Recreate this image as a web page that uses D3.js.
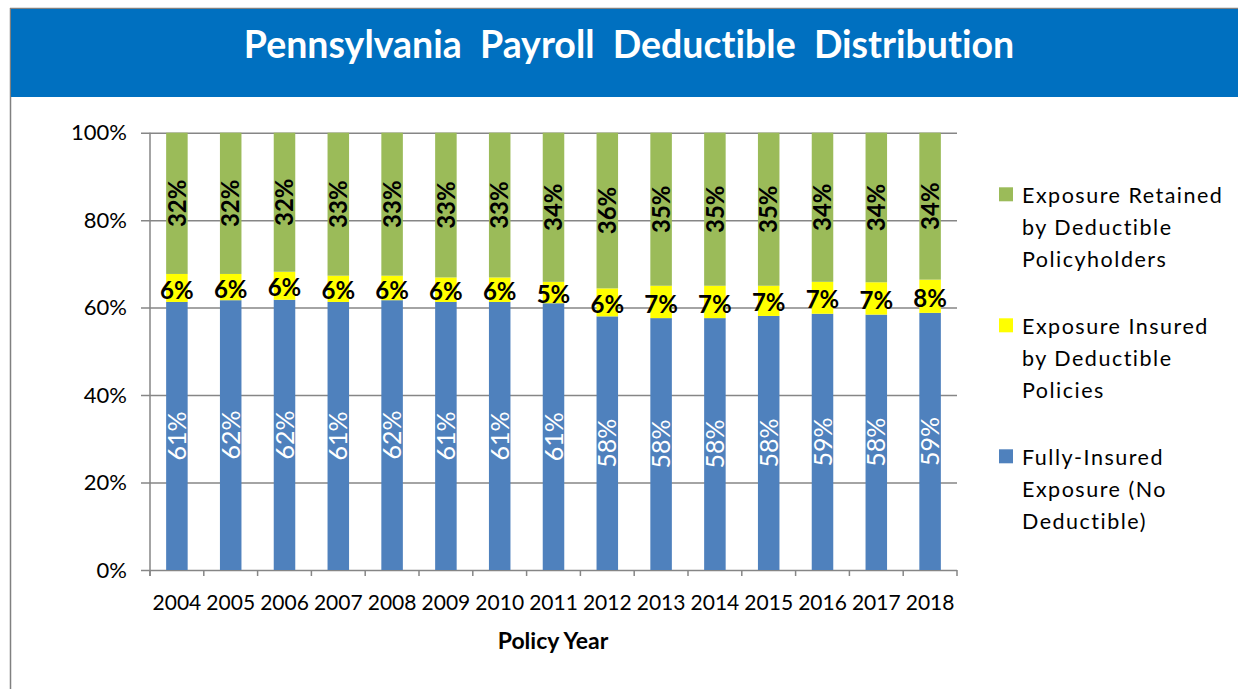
<!DOCTYPE html>
<html>
<head>
<meta charset="utf-8">
<script src="https://cdn.jsdelivr.net/npm/d3@7"></script>
<style>
    body { margin: 0; background: #fff; }
    svg text { font-family: Lato, "Noto Sans", sans-serif; font-variant-ligatures: none; }
</style>
</head>
<body>
<div id="chart"></div>
<script>
(function () {
    // data (percent of payroll)
    var years = ['2004', '2005', '2006', '2007', '2008', '2009', '2010', '2011',
                 '2012', '2013', '2014', '2015', '2016', '2017', '2018'];
    var fullyInsured = [61.3, 61.7, 61.8, 61.3, 61.7, 61.3, 61.3, 61.0, 58.0, 57.6, 57.6, 58.1, 58.6, 58.4, 58.8];
    var insuredDeductible = [6.4, 6.0, 6.4, 6.0, 5.6, 5.6, 5.6, 4.9, 6.4, 7.4, 7.4, 6.9, 7.3, 7.4, 7.6];
    var retainedDeductible = [32.3, 32.3, 31.8, 32.7, 32.7, 33.1, 33.1, 34.1, 35.6, 35.0, 35.0, 35.0, 34.1, 34.2, 33.6];
    var yTicks = [0, 20, 40, 60, 80, 100];

    var seriesKeys = ['blue', 'yellow', 'green'];
    var legendNames = {
        green: ['Exposure Retained', 'by Deductible', 'Policyholders'],
        yellow: ['Exposure Insured', 'by Deductible', 'Policies'],
        blue: ['Fully-Insured', 'Exposure (No', 'Deductible)']
    };
    var colors = { blue: '#4F81BD', yellow: '#FFFF00', green: '#9BBB59' };

    const width = 1238;
    const height = 689;
    const plot_left = 150, plot_right = 957;
    const plot_top = 132.7, plot_bottom = 570;
    const grid_color = '#868686';

    var rows = years.map(function (y, i) {
        return { year: y, blue: fullyInsured[i], yellow: insuredDeductible[i], green: retainedDeductible[i] };
    });

    var svg = d3.select('#chart').append('svg')
        .attr('width', width)
        .attr('height', height);

    // frame + title banner
    svg.append('line')
        .attr('x1', 10.5).attr('x2', 10.5)
        .attr('y1', 8).attr('y2', height)
        .attr('stroke', '#808080').attr('stroke-width', 1.5);
    svg.append('line')
        .attr('x1', 10).attr('x2', width)
        .attr('y1', 8.5).attr('y2', 8.5)
        .attr('stroke', '#808080').attr('stroke-width', 1.5);
    svg.append('rect')
        .attr('x', 11).attr('y', 9)
        .attr('width', width - 11).attr('height', 88)
        .attr('fill', '#0070C0');
    svg.append('text')
        .attr('x', 629).attr('y', 58)
        .attr('text-anchor', 'middle')
        .attr('fill', '#fff')
        .attr('font-size', 37.5)
        .attr('font-weight', 'bold')
        .attr('xml:space', 'preserve')
        .style('white-space', 'pre')
        .text('Pennsylvania  Payroll  Deductible  Distribution');

    var x = d3.scaleBand()
        .domain(years)
        .range([plot_left, plot_right])
        .paddingInner(0.6)
        .paddingOuter(0.3);

    var y = d3.scaleLinear()
        .domain([0, 100])
        .range([plot_bottom, plot_top]);

    // gridlines with left tick marks
    var yAxis = d3.axisLeft(y)
        .tickValues(yTicks)
        .tickSize(9)
        .tickPadding(14)
        .tickFormat(function (d) { return d + '%'; });

    var yg = svg.append('g')
        .attr('transform', `translate(${plot_left},0)`)
        .call(yAxis);
    yg.select('.domain').remove();
    yg.selectAll('.tick line')
        .attr('x1', -9)
        .attr('x2', plot_right - plot_left)
        .attr('stroke', grid_color).attr('stroke-width', 1.5);
    yg.selectAll('.tick text')
        .attr('fill', '#000')
        .attr('font-size', 22);

    // vertical axis line
    svg.append('line')
        .attr('x1', plot_left).attr('x2', plot_left)
        .attr('y1', plot_top).attr('y2', plot_bottom + 6)
        .attr('stroke', grid_color).attr('stroke-width', 1.5);

    // category boundary ticks below x axis
    var boundaries = d3.range(years.length + 1).map(function (i) {
        return plot_left + (plot_right - plot_left) * i / years.length;
    });
    svg.append('g').selectAll('line').data(boundaries)
        .enter().append('line')
        .attr('x1', function (d) { return d; })
        .attr('x2', function (d) { return d; })
        .attr('y1', plot_bottom).attr('y2', plot_bottom + 6)
        .attr('stroke', grid_color).attr('stroke-width', 1.5);

    var xAxis = d3.axisBottom(x).tickSize(0).tickPadding(0);
    var xg = svg.append('g')
        .attr('transform', `translate(0,${plot_bottom})`)
        .call(xAxis);
    xg.select('.domain').remove();
    xg.selectAll('.tick text')
        .attr('y', 40).attr('dy', 0)
        .attr('fill', '#000')
        .attr('font-size', 21);

    svg.append('text')
        .attr('x', 553).attr('y', 649)
        .attr('text-anchor', 'middle')
        .attr('font-size', 23)
        .attr('font-weight', 'bold')
        .text('Policy Year');

    // stacked bars
    var stacked = d3.stack().keys(seriesKeys)(rows);

    var layers = svg.append('g').selectAll('g').data(stacked)
        .enter().append('g')
        .attr('fill', function (d) { return colors[d.key]; });

    layers.selectAll('rect').data(function (d) { return d; })
        .enter().append('rect')
        .attr('x', function (d) { return x(d.data.year); })
        .attr('width', x.bandwidth())
        .attr('y', function (d) { return y(d[1]); })
        .attr('height', function (d) { return y(d[0]) - y(d[1]); });

    // data labels
    var labelG = svg.append('g');
    stacked.forEach(function (layer) {
        layer.forEach(function (d) {
            var cx = x(d.data.year) + x.bandwidth() / 2;
            var cy = (y(d[0]) + y(d[1])) / 2;
            var txt = Math.round(d[1] - d[0]) + '%';
            var t = labelG.append('text')
                .attr('text-anchor', 'middle')
                .attr('dy', '.36em')
                .text(txt);
            if (layer.key === 'yellow') {
                t.attr('x', cx).attr('y', cy + 2)
                    .attr('font-size', 24)
                    .attr('font-weight', 'bold')
                    .attr('fill', '#000');
            } else if (layer.key === 'green') {
                t.attr('transform', `translate(${cx},${cy}) rotate(-90)`)
                    .attr('font-size', 24)
                    .attr('font-weight', 'bold')
                    .attr('fill', '#000');
            } else {
                t.attr('transform', `translate(${cx},${cy}) rotate(-90)`)
                    .attr('font-size', 25)
                    .attr('fill', '#fff');
            }
        });
    });

    // legend
    var legendOrder = ['green', 'yellow', 'blue'];
    var legend = svg.append('g');
    legendOrder.forEach(function (key, i) {
        var baseY = 203.3 + i * 131;
        legend.append('rect')
            .attr('x', 999).attr('y', baseY - 16)
            .attr('width', 14).attr('height', 14)
            .attr('fill', colors[key]);
        legendNames[key].forEach(function (line, j) {
            legend.append('text')
                .attr('x', 1022)
                .attr('y', baseY + j * 32)
                .attr('font-size', 21.5)
                .attr('letter-spacing', 1.5)
                .attr('fill', '#000')
                .text(line);
        });
    });
})();
</script>
</body>
</html>
